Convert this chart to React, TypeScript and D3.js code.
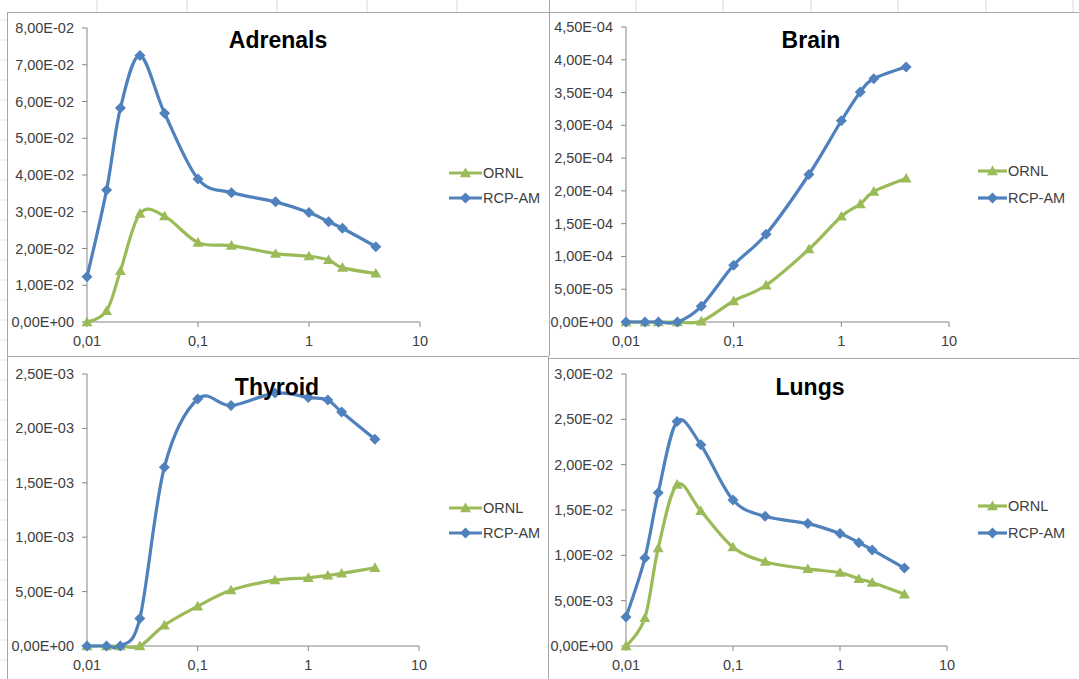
import React from "react";
import * as d3 from "d3";

const xValues = [0.01, 0.015, 0.02, 0.03, 0.05, 0.1, 0.2, 0.5, 1, 1.5, 2, 4];
const xTickLabels = ["0,01", "0,1", "1", "10"];
const seriesNames = ["ORNL", "RCP-AM"];

const adrenalsORNL = [0, 0.003, 0.0139, 0.0295, 0.0288, 0.0216, 0.0208, 0.0186, 0.0179, 0.0169, 0.0148, 0.0132];
const adrenalsRCP = [0.0123, 0.0359, 0.0582, 0.0725, 0.0568, 0.0389, 0.0352, 0.0327, 0.0298, 0.0273, 0.0255, 0.0205];
const adrenalsYTicks = ["0,00E+00", "1,00E-02", "2,00E-02", "3,00E-02", "4,00E-02", "5,00E-02", "6,00E-02", "7,00E-02", "8,00E-02"];

const brainORNL = [0, 0, 0, 0, 0.000001, 0.000032, 0.000056, 0.000111, 0.000161, 0.00018, 0.000199, 0.000219];
const brainRCP = [0, 0, 0, 0, 0.000024, 0.0000867, 0.000134, 0.000225, 0.000307, 0.000351, 0.000371, 0.000389];
const brainYTicks = ["0,00E+00", "5,00E-05", "1,00E-04", "1,50E-04", "2,00E-04", "2,50E-04", "3,00E-04", "3,50E-04", "4,00E-04", "4,50E-04"];

const thyroidORNL = [0, 0, 0, 0, 0.00019, 0.000365, 0.000513, 0.000605, 0.000627, 0.000648, 0.000667, 0.000719];
const thyroidRCP = [0, 0, 0, 0.000252, 0.001643, 0.00227, 0.00221, 0.002325, 0.002285, 0.00226, 0.00215, 0.0019];
const thyroidYTicks = ["0,00E+00", "5,00E-04", "1,00E-03", "1,50E-03", "2,00E-03", "2,50E-03"];

const lungsORNL = [0, 0.0031, 0.0108, 0.0178, 0.0149, 0.0109, 0.0093, 0.0085, 0.0081, 0.0074, 0.007, 0.0057];
const lungsRCP = [0.0032, 0.0097, 0.0169, 0.02475, 0.0222, 0.0161, 0.0143, 0.0135, 0.0124, 0.0114, 0.0106, 0.0086];
const lungsYTicks = ["0,00E+00", "5,00E-03", "1,00E-02", "1,50E-02", "2,00E-02", "2,50E-02", "3,00E-02"];

const GREEN = "#9BBB59";
const BLUE = "#4F81BD";
const AXIS = "#868686";
const BORDER = "#a6a6a6";
const FONT = "'Liberation Sans Narrow', 'Liberation Sans', Arial, sans-serif";

type PanelProps = {
  title: string;
  ornl: number[];
  rcp: number[];
  yTicks: string[];
  x0: number; x1: number; yTop: number; yBottom: number;
  titleX: number; titleY: number;
  legX0: number; legX1: number; legY0: number; legY1: number;
};

const parse = (s: string) => parseFloat(s.replace(",", "."));

function Diamond({ x, y }: { x: number; y: number }) {
  const r = 5.5;
  return <path d={`M${x},${y - r}L${x + r},${y}L${x},${y + r}L${x - r},${y}Z`} fill={BLUE} />;
}
function Triangle({ x, y }: { x: number; y: number }) {
  const r = 5.5;
  return <path d={`M${x},${y - r}L${x + r},${y + r * 0.75}L${x - r},${y + r * 0.75}Z`} fill={GREEN} />;
}

function Panel(p: PanelProps) {
  const tickVals = p.yTicks.map(parse);
  const yMax = tickVals[tickVals.length - 1];
  const x = d3.scaleLog().domain([0.01, 10]).range([p.x0, p.x1]);
  const y = d3.scaleLinear().domain([0, yMax]).range([p.yBottom, p.yTop]);
  const line = d3
    .line<number>()
    .x((_, i) => x(xValues[i]))
    .y((d) => y(d))
    .curve(d3.curveCardinal.tension(0));
  const xTickVals = xTickLabels.map(parse);
  return (
    <g>
      <line x1={p.x0} x2={p.x0} y1={p.yTop} y2={p.yBottom} stroke={AXIS} strokeWidth={1} />
      <line x1={p.x0} x2={p.x1} y1={p.yBottom} y2={p.yBottom} stroke={AXIS} strokeWidth={1} />
      {tickVals.map((v, i) => (
        <g key={"y" + i}>
          <line x1={p.x0 - 5} x2={p.x0} y1={y(v)} y2={y(v)} stroke={AXIS} />
          <text x={p.x0 - 13} y={y(v) + 5} textAnchor="end" fontSize={14.5} fill="#404040" fontFamily={FONT}>
            {p.yTicks[i]}
          </text>
        </g>
      ))}
      {xTickVals.map((v, i) => (
        <g key={"x" + i}>
          <line x1={x(v)} x2={x(v)} y1={p.yBottom} y2={p.yBottom + 5} stroke={AXIS} />
          <text x={x(v)} y={p.yBottom + 24} textAnchor="middle" fontSize={14.5} fill="#404040" fontFamily={FONT}>
            {xTickLabels[i]}
          </text>
        </g>
      ))}
      <path d={line(p.ornl) || ""} fill="none" stroke={GREEN} strokeWidth={3.2} />
      <path d={line(p.rcp) || ""} fill="none" stroke={BLUE} strokeWidth={3.2} />
      {p.ornl.map((v, i) => <Triangle key={"t" + i} x={x(xValues[i])} y={y(v)} />)}
      {p.rcp.map((v, i) => <Diamond key={"d" + i} x={x(xValues[i])} y={y(v)} />)}
      <text x={p.titleX} y={p.titleY} textAnchor="middle" fontSize={23} fontWeight="bold" fill="#000" fontFamily={FONT}>
        {p.title}
      </text>
      {[0, 1].map((k) => {
        const ly = k === 0 ? p.legY0 : p.legY1;
        const mx = (p.legX0 + p.legX1) / 2;
        return (
          <g key={"l" + k}>
            <line x1={p.legX0} x2={p.legX1} y1={ly} y2={ly} stroke={k === 0 ? GREEN : BLUE} strokeWidth={3.2} />
            {k === 0 ? <Triangle x={mx} y={ly} /> : <Diamond x={mx} y={ly} />}
            <text x={p.legX1 + 1} y={ly + 5} fontSize={14.5} fill="#404040" fontFamily={FONT}>
              {seriesNames[k]}
            </text>
          </g>
        );
      })}
    </g>
  );
}

export default function App() {
  const colLines = [97, 187, 277, 367, 457, 636, 723, 811, 898, 986, 1073];
  const rowLines = d3.range(20, 679, 20);
  return (
    <svg width={1079} height={679} style={{ position: "absolute", left: 0, top: 0, background: "#fff" }}>
      <rect x={0} y={0} width={1079} height={679} fill="#fff" />
      {colLines.map((c) => (
        <line key={"c" + c} x1={c} x2={c} y1={0} y2={12} stroke="#d9d9d9" />
      ))}
      {rowLines.map((r) => (
        <line key={"r" + r} x1={0} x2={7} y1={r} y2={r} stroke="#e3e3e3" />
      ))}
      <line x1={7} x2={1079} y1={12.5} y2={12.5} stroke={BORDER} />
      <line x1={7.5} x2={7.5} y1={12} y2={679} stroke={BORDER} />
      <line x1={549.5} x2={549.5} y1={0} y2={356} stroke={BORDER} />
      <line x1={548.5} x2={548.5} y1={356} y2={679} stroke={BORDER} />
      <line x1={7} x2={549} y1={356.5} y2={356.5} stroke={BORDER} />
      <line x1={548} x2={1079} y1={358.5} y2={358.5} stroke={BORDER} />
      <Panel title="Adrenals" ornl={adrenalsORNL} rcp={adrenalsRCP} yTicks={adrenalsYTicks}
        x0={87} x1={420} yTop={28} yBottom={322} titleX={278} titleY={48}
        legX0={449} legX1={482} legY0={173} legY1={198} />
      <Panel title="Brain" ornl={brainORNL} rcp={brainRCP} yTicks={brainYTicks}
        x0={626} x1={949} yTop={27} yBottom={322} titleX={811} titleY={48}
        legX0={978} legX1={1007} legY0={171} legY1={198} />
      <Panel title="Thyroid" ornl={thyroidORNL} rcp={thyroidRCP} yTicks={thyroidYTicks}
        x0={87} x1={419} yTop={374} yBottom={646} titleX={277} titleY={395}
        legX0={449} legX1={482} legY0={508} legY1={533} />
      <Panel title="Lungs" ornl={lungsORNL} rcp={lungsRCP} yTicks={lungsYTicks}
        x0={626} x1={947} yTop={374} yBottom={646} titleX={810} titleY={395}
        legX0={978} legX1={1007} legY0={506} legY1={533} />
    </svg>
  );
}
